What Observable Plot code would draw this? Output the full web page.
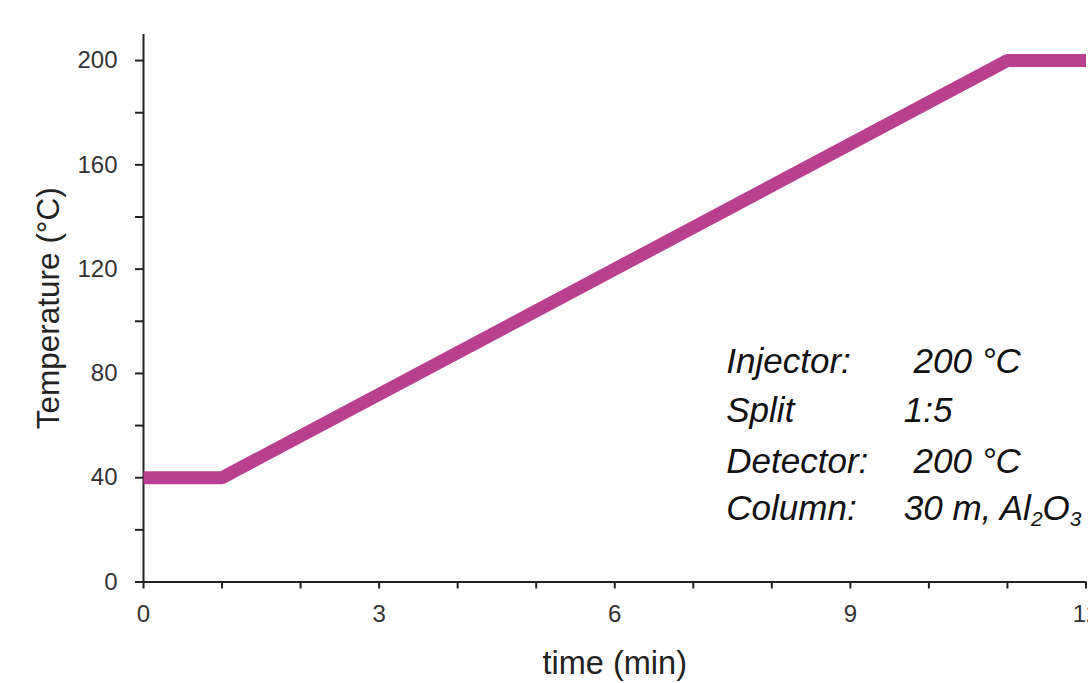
<!DOCTYPE html>
<html>
<head>
<meta charset="utf-8">
<script src="https://cdn.jsdelivr.net/npm/d3@7"></script>
<script src="https://cdn.jsdelivr.net/npm/@observablehq/plot@0.6"></script>
<style>
  html, body { margin: 0; padding: 0; background: #fff; overflow: hidden; }
  #chart { width: 1088px; height: 683px; }
</style>
</head>
<body>
<div id="chart"></div>
<script>
// Temperature program (oven)
const times = [0, 1, 11, 12];          // min
const temps = [40, 40, 200, 200];      // °C

// Ticks
const xTickValues = d3.range(0, 13, 1);
const xLabelValues = [0, 3, 6, 9, 12];
const yTickValues = d3.range(0, 201, 20);
const yLabelValues = [0, 40, 80, 120, 160, 200];

// Axis titles
const xTitle = "time (min)";
const yTitle = "Temperature (°C)";

// Annotation (GC conditions)
const annotNames = ["Injector:", "Split", "Detector:", "Column:"];
const annotValues = [" 200 °C", "1:5", " 200 °C", "30 m, Al2O3"];
const annotY = [80, 61.2, 42, 23.6];   // baseline, in °C units
const annotNameX = 7.42;               // in min units
const annotValueX = 9.68;

const program = times.map((t, i) => ({t, T: temps[i]}));
const annot = annotNames.map((n, i) => ({name: n, value: annotValues[i], y: annotY[i]}));

const plot = Plot.plot({
  width: 1088,
  height: 683,
  marginLeft: 143,
  marginRight: 2.5,
  marginTop: 34,
  marginBottom: 101.5,
  style: {fontFamily: "'Liberation Sans', Arial, sans-serif", fontSize: "24px", background: "#fff", color: "#222"},
  x: {domain: [0, 12]},
  y: {domain: [0, 210]},
  marks: [
    Plot.axisY({
      ticks: yTickValues,
      tickFormat: d => yLabelValues.includes(d) ? String(d) : "",
      tickSize: 8, tickPadding: 18,
      stroke: "#222", strokeWidth: 2, fill: "#333",
      label: null
    }),
    Plot.axisX({
      ticks: xTickValues,
      tickFormat: d => xLabelValues.includes(d) ? String(d) : "",
      tickSize: 7, tickPadding: 16,
      stroke: "#222", strokeWidth: 2, fill: "#333",
      label: null
    }),
    Plot.ruleY([0], {stroke: "#222", strokeWidth: 2}),
    Plot.ruleX([0], {stroke: "#222", strokeWidth: 2}),
    Plot.line(program, {
      x: "t", y: "T",
      stroke: "#B8408F", strokeWidth: 13,
      strokeLinecap: "butt", strokeLinejoin: "miter"
    }),
    Plot.text([xTitle], {
      frameAnchor: "bottom", dy: 81.5, lineAnchor: "middle", textAnchor: "middle",
      fontSize: 32.5, fill: "#222"
    }),
    Plot.text([yTitle], {
      frameAnchor: "left", dx: -95, rotate: -90, lineAnchor: "middle", textAnchor: "middle",
      fontSize: 31.5, fill: "#222"
    }),
    Plot.text(annot, {
      x: () => annotNameX, y: "y", text: "name",
      textAnchor: "start", lineAnchor: "bottom",
      fontSize: 35, fontStyle: "italic", fill: "#111"
    }),
    Plot.text(annot, {
      x: () => annotValueX, y: "y", text: "value",
      textAnchor: "start", lineAnchor: "bottom",
      fontSize: 35, fontStyle: "italic", fill: "#111"
    })
  ]
});

// Render subscripts for Al2O3
d3.select(plot).selectAll("text").each(function() {
  const el = d3.select(this);
  if (el.text() === "30 m, Al2O3") {
    el.text(null);
    el.append("tspan").text("30 m, Al");
    el.append("tspan").attr("font-size", "0.6em").attr("dy", "0.25em").text("2");
    el.append("tspan").attr("dy", "-0.15em").text("O");
    el.append("tspan").attr("font-size", "0.6em").attr("dy", "0.25em").text("3");
  }
});

document.getElementById("chart").appendChild(plot);
</script>
</body>
</html>
